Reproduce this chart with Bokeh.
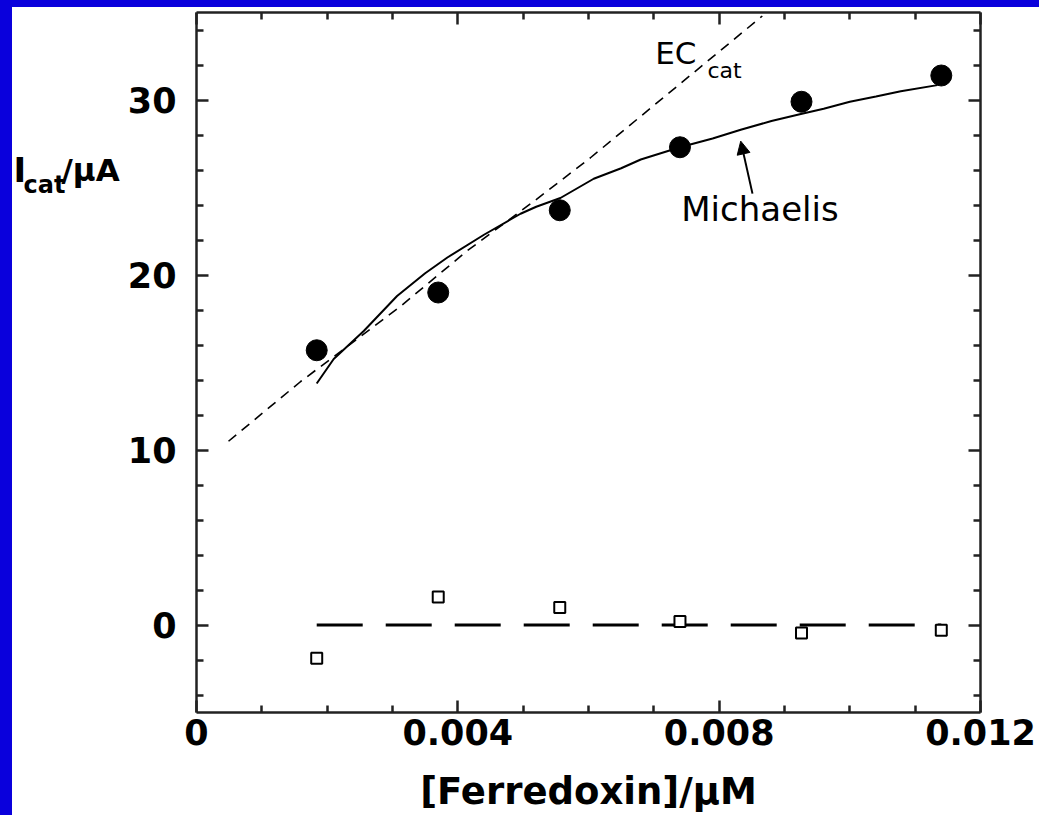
from bokeh.plotting import figure
from bokeh.models import (Range1d, FixedTicker, LinearAxis, CustomJSTickFormatter,
                          Label, Arrow, NormalHead, Spacer)
from bokeh.layouts import row, column
from bokeh.core.properties import value
from bokeh.embed import file_html
from bokeh.resources import INLINE

# ---- data ----
conc = [0.00184, 0.0037, 0.00556, 0.0074, 0.00926, 0.0114]
icat = [15.7, 19.0, 23.7, 27.3, 29.9, 31.4]
resid = [-1.9, 1.6, 1.0, 0.2, -0.45, -0.3]

mm_x = [0.00184, 0.0021, 0.00256, 0.00307, 0.0035, 0.00384, 0.0044, 0.00496,
        0.0052, 0.00557, 0.00608, 0.0065, 0.0068, 0.0074, 0.0079, 0.00833,
        0.0088, 0.00925, 0.0096, 0.0100, 0.0104, 0.01078, 0.01134]
mm_y = [13.8, 15.2, 16.8, 18.8, 20.1, 21.0, 22.3, 23.5,
        23.9, 24.4, 25.5, 26.1, 26.6, 27.3, 27.8, 28.3,
        28.8, 29.2, 29.5, 29.9, 30.2, 30.5, 30.85]

ec_x = [0.00049, 0.00159, 0.00312, 0.00415, 0.00516, 0.00603, 0.00866]
ec_y = [10.5, 13.9, 18.2, 21.4, 24.2, 26.7, 34.8]

zero_x = [0.00184, 0.0114]
zero_y = [0.0, 0.0]

x_major = [0, 0.004, 0.008, 0.012]
x_minor = [0.001, 0.002, 0.003, 0.005, 0.006, 0.007, 0.009, 0.010, 0.011]
y_major = [0, 10, 20, 30]
y_minor = [-4, -2, 2, 4, 6, 8, 12, 14, 16, 18, 22, 24, 26, 28, 32, 34]

# y-axis title pieces (text, bold size, x, baseline y in the side panel's pixel frame)
ylab_text = ["I", "cat", "/μA"]
ylab_size = ["34px", "24px", "31px"]
ylab_x = [1, 11, 49]
ylab_y = [182, 199, 182]

# annotation anchors (data units)
ec_label = (0.00702, 32.7)
ec_sub = (0.00782, 31.7)
mm_label = (0.00742, 23.8)
arrow_tail = (0.00851, 24.65)
arrow_tip = (0.00833, 27.65)

FONT = "DejaVu Sans"
BLUE = "#0a00dc"
FS_TICK = "35px"

W_TOTAL, H_TOTAL = 1039, 815
TOP_STRIP, LEFT_STRIP, SIDE_W = 7, 12, 110
PH = H_TOTAL - TOP_STRIP
PW = W_TOTAL - LEFT_STRIP - SIDE_W

p = figure(width=PW, height=PH, output_backend="svg", toolbar_location=None,
           x_range=Range1d(0, 0.012), y_range=Range1d(-5, 35),
           x_axis_location=None, y_axis_location=None,
           min_border_left=196 - LEFT_STRIP - SIDE_W, min_border_right=59,
           min_border_top=12 - TOP_STRIP, min_border_bottom=101)
p.background_fill_color = "white"
p.border_fill_color = "white"
p.outline_line_color = None
p.xgrid.visible = False
p.ygrid.visible = False

fmt = CustomJSTickFormatter(code="return tick == 0 ? '0' : tick.toFixed(3);")
blank = CustomJSTickFormatter(code="return '';")

def style(ax, labels=True):
    ax.axis_line_width = 2.5
    ax.axis_line_color = "#222222"
    ax.major_tick_in = 12
    ax.major_tick_out = 0
    ax.minor_tick_in = 7
    ax.minor_tick_out = 0
    ax.major_tick_line_width = 2.5
    ax.minor_tick_line_width = 2.5
    ax.major_tick_line_color = "#222222"
    ax.minor_tick_line_color = "#222222"
    ax.major_label_text_font = FONT
    ax.major_label_text_font_style = "bold"
    ax.major_label_text_font_size = FS_TICK if labels else "0px"
    ax.major_label_text_color = "black"

xb = LinearAxis(ticker=FixedTicker(ticks=x_major, minor_ticks=x_minor), formatter=fmt)
style(xb)
xb.major_label_standoff = 6
xb.axis_label = "[Ferredoxin]/μM"
xb.axis_label_text_font = FONT
xb.axis_label_text_font_style = "bold"
xb.axis_label_text_font_size = "37px"
xb.axis_label_text_color = "black"
xb.axis_label_standoff = 22
p.add_layout(xb, "below")

xt = LinearAxis(ticker=FixedTicker(ticks=x_major, minor_ticks=x_minor), formatter=blank)
style(xt, labels=False)
xt.major_label_standoff = 0
p.add_layout(xt, "above")

yl = LinearAxis(ticker=FixedTicker(ticks=y_major, minor_ticks=y_minor))
style(yl)
yl.major_label_standoff = 20
p.add_layout(yl, "left")

yr = LinearAxis(ticker=FixedTicker(ticks=y_major, minor_ticks=y_minor), formatter=blank)
style(yr, labels=False)
yr.major_label_standoff = 0
p.add_layout(yr, "right")

# ---- curves ----
p.line(ec_x, ec_y, line_color="black", line_width=1.6, line_dash="10 7")
p.line(mm_x, mm_y, line_color="black", line_width=2)
p.line(zero_x, zero_y, line_color="black", line_width=3, line_dash="46 23")

# ---- points ----
p.scatter(conc, icat, marker="circle", size=21, fill_color="black", line_color="black")
p.scatter(conc, resid, marker="square", size=11, fill_color="white",
          line_color="black", line_width=2)

# ---- annotations ----
p.add_layout(Label(x=ec_label[0], y=ec_label[1], text="EC", text_font=FONT,
                   text_font_size="31px", text_baseline="alphabetic", text_color="black"))
p.add_layout(Label(x=ec_sub[0], y=ec_sub[1], text="cat", text_font=FONT,
                   text_font_size="22px", text_baseline="alphabetic", text_color="black"))
p.add_layout(Label(x=mm_label[0], y=mm_label[1], text="Michaelis", text_font=FONT,
                   text_font_size="34px", text_baseline="alphabetic", text_color="black"))
p.add_layout(Arrow(end=NormalHead(size=13, fill_color="black", line_color="black"),
                   x_start=arrow_tail[0], y_start=arrow_tail[1],
                   x_end=arrow_tip[0], y_end=arrow_tip[1],
                   line_width=2, line_color="black"))

# ---- side panel holding the horizontal y-axis title ----
side = figure(width=SIDE_W, height=PH, output_backend="svg", toolbar_location=None,
              x_range=Range1d(0, SIDE_W), y_range=Range1d(PH, 0),
              x_axis_location=None, y_axis_location=None,
              min_border_left=0, min_border_right=0, min_border_top=0, min_border_bottom=0)
side.outline_line_color = None
side.xgrid.visible = False
side.ygrid.visible = False
side.background_fill_color = "white"
side.border_fill_color = "white"
for t, s, xx, yy in zip(ylab_text, ylab_size, ylab_x, ylab_y):
    side.text(x=[xx], y=[yy], text=[t], text_font=value(FONT), text_font_size=value(s),
              text_font_style="bold", text_baseline="alphabetic", text_align="left",
              text_color="black")

top_strip = Spacer(width=W_TOTAL, height=TOP_STRIP, styles={"background-color": BLUE})
left_strip = Spacer(width=LEFT_STRIP, height=PH, styles={"background-color": BLUE})
layout = column(top_strip, row(left_strip, side, p))

open("out.html", "w").write(file_html(layout, INLINE))
